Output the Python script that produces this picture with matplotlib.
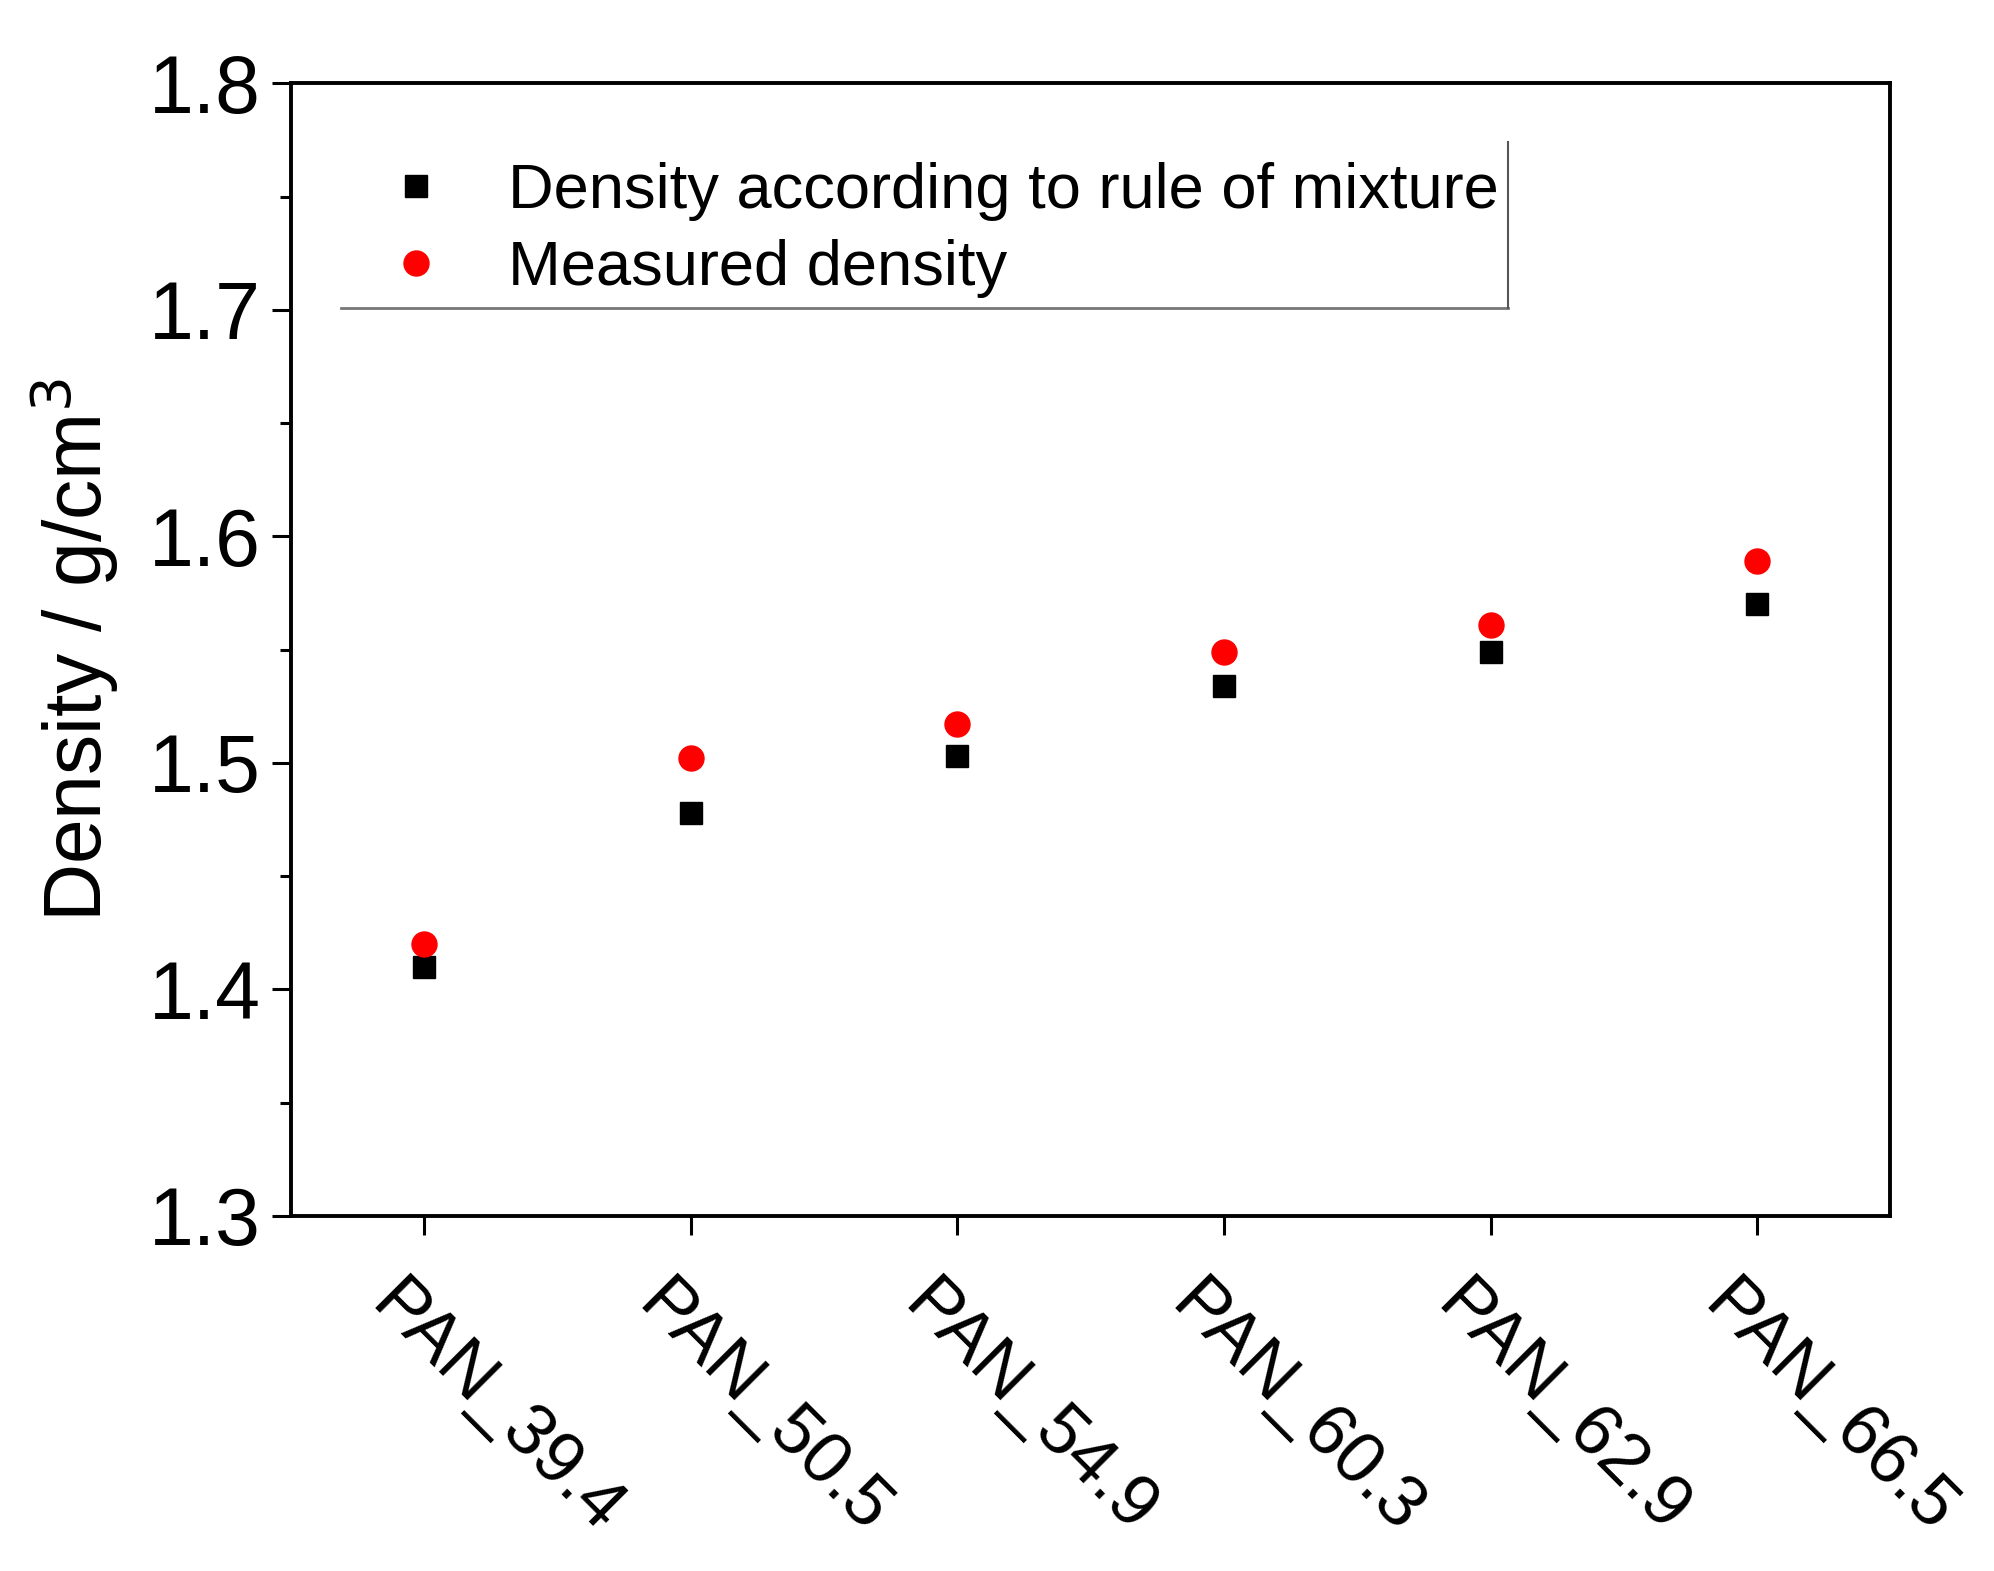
import numpy as np
import matplotlib as mpl
mpl.use('Agg')
import matplotlib.pyplot as plt
from matplotlib.ticker import MultipleLocator

plt.rcParams['font.family'] = ['Liberation Sans', 'DejaVu Sans']

samples = ['PAN_39.4', 'PAN_50.5', 'PAN_54.9', 'PAN_60.3', 'PAN_62.9', 'PAN_66.5']
rule_of_mixture = [1.410, 1.478, 1.503, 1.534, 1.549, 1.570]
measured = [1.420, 1.502, 1.517, 1.549, 1.561, 1.589]

fig = plt.figure(figsize=(19.94, 15.71), dpi=100)
ax = fig.add_axes([0.146, 0.226, 0.802, 0.721])

pos = np.arange(len(samples))
ax.plot(pos, rule_of_mixture, 's', color='black', markersize=16,
        label='Density according to rule of mixture')
ax.plot(pos, measured, 'o', color='red', markersize=18,
        label='Measured density')

ax.set_xlim(-0.5, 5.5)
ax.set_ylim(1.3, 1.8)
ax.yaxis.set_major_locator(MultipleLocator(0.1))
ax.yaxis.set_minor_locator(MultipleLocator(0.05))
ax.yaxis.set_major_formatter(mpl.ticker.FormatStrFormatter('%.1f'))
ax.set_xticks(pos)
ax.set_xticklabels([])
# rotated category labels, nudged left of the tick like the original
for p, name in zip(pos, samples):
    ax.annotate(name, xy=(p, 0), xycoords=('data', 'axes fraction'),
                xytext=(-14, -39), textcoords='offset points',
                rotation=-45, ha='left', va='top', rotation_mode='anchor',
                fontsize=52)
ax.tick_params(axis='y', labelsize=58, length=14, width=2.2, direction='out', pad=8)
ax.tick_params(axis='y', which='minor', length=8, width=2.2)
ax.tick_params(axis='x', length=14, width=2.2, direction='out')
for s in ax.spines.values():
    s.set_linewidth(2.8)

ax.set_ylabel('Density / g/cm$^3$', fontsize=58, labelpad=20)

leg = ax.legend(loc='upper left', bbox_to_anchor=(0.023, 0.953), frameon=False,
                fontsize=45.5, handletextpad=0.45, labelspacing=0.29,
                borderaxespad=0)
# legend box shows only bottom and right edges
ax.plot([0.031, 0.761], [0.802, 0.802], color='#777777', lw=2, transform=ax.transAxes)
ax.plot([0.761, 0.761], [0.802, 0.948], color='#555555', lw=1.5, transform=ax.transAxes)

fig.savefig('out.png', dpi=100)
